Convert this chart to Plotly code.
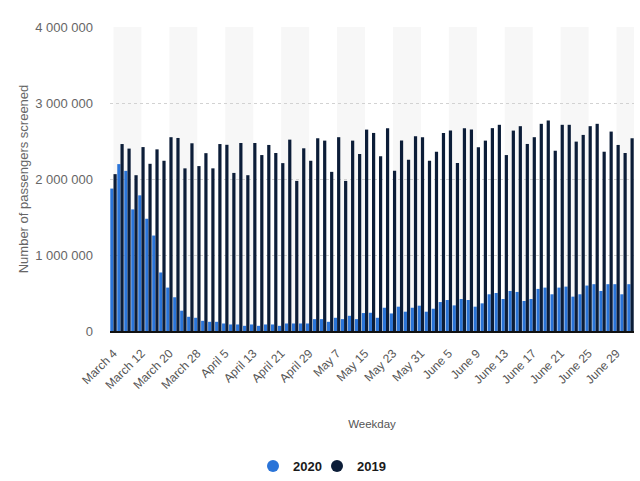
import plotly.graph_objects as go

categories = [
    "March 4", "March 6", "March 8", "March 10", "March 12", "March 14", "March 16",
    "March 18", "March 20", "March 22", "March 24", "March 26", "March 28", "March 30",
    "April 1", "April 3", "April 5", "April 7", "April 9", "April 11", "April 13",
    "April 15", "April 17", "April 19", "April 21", "April 23", "April 25", "April 27",
    "April 29", "May 1", "May 3", "May 5", "May 7", "May 9", "May 11", "May 13",
    "May 15", "May 17", "May 19", "May 21", "May 23", "May 25", "May 27", "May 29",
    "May 31", "June 2", "June 3", "June 4", "June 5", "June 6", "June 7", "June 8",
    "June 9", "June 10", "June 11", "June 12", "June 13", "June 14", "June 15",
    "June 16", "June 17", "June 18", "June 19", "June 20", "June 21", "June 22",
    "June 23", "June 24", "June 25", "June 26", "June 27", "June 28", "June 29",
    "June 30", "July 1",
]

passengers_2020 = [
    1874000, 2196000, 2107000, 1600000, 1785000, 1477000, 1256000, 770000, 571000,
    444000, 267000, 187000, 174000, 134000, 121000, 121000, 99000, 86000, 86000,
    68000, 86000, 68000, 86000, 86000, 68000, 99000, 99000, 99000, 99000, 156000,
    156000, 121000, 174000, 156000, 200000, 156000, 236000, 240000, 174000, 306000,
    231000, 320000, 254000, 306000, 333000, 254000, 293000, 381000, 408000, 337000,
    421000, 408000, 320000, 364000, 483000, 500000, 421000, 527000, 514000, 395000,
    421000, 554000, 571000, 483000, 571000, 584000, 452000, 483000, 598000, 616000,
    527000, 616000, 616000, 483000, 616000,
]

passengers_2019 = [
    2064000, 2460000, 2400000, 2050000, 2420000, 2200000, 2390000, 2240000, 2550000,
    2540000, 2140000, 2470000, 2170000, 2340000, 2140000, 2460000, 2450000, 2080000,
    2474000, 2050000, 2474000, 2315000, 2448000, 2342000, 2209000, 2518000, 1975000,
    2404000, 2240000, 2536000, 2505000, 2094000, 2550000, 1975000, 2505000, 2329000,
    2650000, 2606000, 2298000, 2669000, 2107000, 2505000, 2253000, 2563000, 2550000,
    2240000, 2359000, 2606000, 2637000, 2209000, 2669000, 2651000, 2417000, 2505000,
    2669000, 2713000, 2315000, 2637000, 2695000, 2461000, 2550000, 2726000, 2770000,
    2372000, 2713000, 2713000, 2492000, 2580000, 2695000, 2726000, 2359000, 2624000,
    2448000, 2342000, 2536000,
]

tick_labels = categories[::4]
y_ticks = [0, 1000000, 2000000, 3000000, 4000000]
series_names = ["2020", "2019"]

BLUE = "#2a74d8"
DARK = "#0c1d38"
FONT = "Liberation Sans"

fig = go.Figure()
fig.add_bar(x=categories, y=passengers_2020, name=series_names[0],
            marker=dict(color=BLUE, line=dict(width=0)), showlegend=False)
fig.add_bar(x=categories, y=passengers_2019, name=series_names[1],
            marker=dict(color=DARK, line=dict(width=0)), showlegend=False)

# legend entries with round markers (one small legend per entry for exact spacing)
for nm, col, lg in zip(series_names, [BLUE, DARK], ["legend", "legend2"]):
    fig.add_scatter(x=[None], y=[None], mode="markers", name=nm, legend=lg,
                    marker=dict(symbol="circle", size=12, color=col))

# alternating background bands
n = len(categories)
for i in range(0, n, 8):
    fig.add_shape(type="rect", xref="x", yref="y", x0=i, x1=min(i + 4, n - 0.5),
                  y0=0, y1=4000000, fillcolor="#f7f7f7", line=dict(width=0),
                  layer="below")

legend_common = dict(orientation="h", xref="container", yref="container",
                     xanchor="left", y=15 / 481, yanchor="middle",
                     font=dict(size=13, color="#1a1a1a", family=FONT, weight="bold"),
                     itemwidth=30, bgcolor="rgba(0,0,0,0)")

fig.update_layout(
    width=640, height=481,
    margin=dict(l=110, r=6, t=27, b=150, autoexpand=False),
    paper_bgcolor="white", plot_bgcolor="white",
    barmode="group", bargap=0.08, bargroupgap=0,
    separators=". ",
    font=dict(family=FONT, color="#666666"),
    legend=dict(x=253 / 640, **legend_common),
    legend2=dict(x=317 / 640, **legend_common),
    xaxis=dict(
        type="category", range=[-0.5, n - 0.5],
        tickmode="array", tickvals=tick_labels, ticktext=tick_labels,
        tickangle=-45, tickfont=dict(size=12, color="#555555"),
        showgrid=False, showline=True, linecolor="#111111", linewidth=1.5,
        ticks="", ticklabelstandoff=9,
        title=dict(text="Weekday", font=dict(size=11.5, color="#555555"), standoff=29),
        automargin=False,
    ),
    yaxis=dict(
        range=[0, 4000000], tickvals=y_ticks, tickformat=",d",
        tickfont=dict(size=13, color="#666666"),
        showgrid=True, gridcolor="#d2d2d2", griddash="dot", gridwidth=1,
        zeroline=False, showline=False, ticks="", ticklabelstandoff=16,
        title=dict(text="Number of passengers screened",
                   font=dict(size=13, color="#666666"), standoff=3),
        automargin=False,
    ),
)

fig.write_html("out.html", config={"displayModeBar": False},
               post_script="document.body.style.margin='0';")
